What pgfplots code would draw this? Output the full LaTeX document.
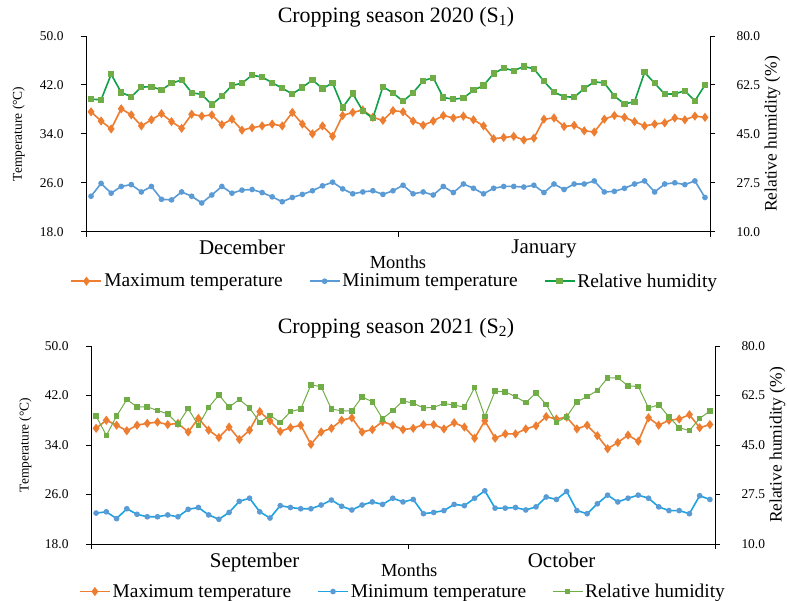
\documentclass[border=0pt]{standalone}
\usepackage{fontspec}
\setmainfont{Liberation Serif}
\usepackage{pgfplots}
\usepackage{pgfplotstable}
\pgfplotsset{compat=1.18}

\definecolor{cOr}{HTML}{ED7D31}
\definecolor{cBl}{HTML}{5B9BD5}
\definecolor{cBlL}{HTML}{1CA3E3}
\definecolor{cGrL}{HTML}{0FA048}
\definecolor{cGrM}{HTML}{70AD47}

\pgfplotstableread{
d tmax tmin rh
1 37.6 23.8 57.4
2 36.1 25.9 57.2
3 34.8 24.3 66.3
4 38.1 25.4 59.8
5 37.1 25.7 58.3
6 35.3 24.5 61.7
7 36.3 25.4 61.9
8 37.3 23.3 60.7
9 36.0 23.2 63.1
10 34.9 24.5 64.3
11 37.2 23.8 59.7
12 36.9 22.7 59.1
13 37.1 24.0 55.5
14 35.5 25.4 58.5
15 36.4 24.3 62.3
16 34.6 24.8 63.1
17 35.0 24.9 66.0
18 35.3 24.4 65.3
19 35.6 23.7 63.3
20 35.3 22.9 61.3
21 37.5 23.6 59.3
22 35.6 24.1 61.6
23 34.0 24.7 64.3
24 35.3 25.5 61.2
25 33.6 26.1 63.2
26 37.0 25.0 54.4
27 37.5 24.2 59.4
28 37.9 24.5 53.2
29 36.7 24.7 50.6
30 36.2 24.1 61.9
31 37.8 24.7 59.6
32 37.6 25.6 56.7
33 36.1 24.2 59.7
34 35.4 24.5 64.0
35 36.1 24.0 65.1
36 37.0 25.4 58.0
37 36.6 24.4 57.4
38 36.9 25.8 57.8
39 36.3 25.1 60.6
40 35.3 24.2 62.3
41 33.2 25.1 66.6
42 33.4 25.4 68.5
43 33.6 25.4 67.6
44 33.0 25.3 69.1
45 33.3 25.6 68.3
46 36.4 24.4 63.8
47 36.6 25.8 59.9
48 35.2 24.9 58.3
49 35.4 25.8 58.1
50 34.5 25.8 61.2
51 34.3 26.3 63.6
52 36.4 24.5 63.2
53 37.0 24.6 58.5
54 36.7 25.1 55.7
55 36.0 25.8 56.5
56 35.3 26.3 67.0
57 35.6 24.5 63.1
58 35.8 25.8 59.2
59 36.6 26.0 59.3
60 36.3 25.7 60.4
61 36.9 26.3 56.8
62 36.7 23.6 62.5
}\seasonA

\pgfplotstableread{
d tmax tmin rh
1 36.7 23.0 55.2
2 38.0 23.2 48.4
3 37.2 22.1 55.2
4 36.3 23.7 61.1
5 37.2 22.8 58.5
6 37.5 22.4 58.5
7 37.7 22.4 57.2
8 37.3 22.7 56.0
9 37.5 22.4 52.4
10 36.1 23.6 57.9
11 38.3 23.9 51.9
12 36.4 22.7 58.3
13 35.2 22.0 62.7
14 36.9 23.1 58.4
15 34.9 24.9 61.1
16 36.4 25.4 58.1
17 39.4 23.2 53.0
18 37.9 22.2 55.5
19 36.2 24.2 53.0
20 36.8 23.9 56.8
21 37.2 23.7 57.7
22 34.1 23.7 66.3
23 36.1 24.3 65.6
24 36.7 25.1 57.7
25 38.0 24.1 57.1
26 38.4 23.5 57.1
27 36.1 24.3 62.0
28 36.5 24.8 60.3
29 37.8 24.4 54.3
30 37.2 25.4 57.2
31 36.5 24.8 60.6
32 36.7 25.2 59.8
33 37.3 22.9 58.1
34 37.3 23.1 58.3
35 36.6 23.4 59.7
36 37.6 24.4 59.1
37 36.9 24.2 58.4
38 35.1 25.4 65.3
39 37.9 26.6 55.1
40 35.1 23.8 64.0
41 35.8 23.8 63.8
42 35.8 23.9 62.1
43 36.6 23.5 60.0
44 37.1 24.0 63.4
45 38.6 25.6 59.3
46 38.2 25.2 53.0
47 38.5 26.5 55.0
48 36.6 23.4 60.3
49 37.2 22.9 62.1
50 35.5 24.5 64.3
51 33.4 25.9 68.7
52 34.4 24.8 68.8
53 35.6 25.4 65.9
54 34.6 25.9 65.7
55 38.4 25.4 58.1
56 37.2 24.0 59.2
57 38.0 23.4 55.0
58 38.2 23.4 51.1
59 38.9 22.9 50.1
60 36.8 25.8 54.4
61 37.3 25.2 57.0
}\seasonB

\pgfplotsset{
  /pgf/number format/assume math mode=true,
  base/.style={
    scale only axis, width=624bp, anchor=south west,
    xmin=0.5,
    axis line style={line width=1bp, black},
    tick style={line width=1bp, black},
    major tick length=5bp, tick align=outside,
  },
  leftax/.style={base,
    axis x line*=bottom, axis y line*=left,
    ymin=18, ymax=50, ytick={18,26,34,42,50},
    yticklabel style={/pgf/number format/fixed, /pgf/number format/fixed zerofill,
      /pgf/number format/precision=1, font=\fontsize{13.5}{15}\selectfont,
      anchor=east, xshift=-14bp},
    xtick={0.5,31.5,62.5}, xticklabels={},
    extra x tick style={major tick length=0pt,
      xticklabel style={font=\fontsize{21}{23}\selectfont, yshift=-5bp}},
    xlabel={Months},
    xlabel style={font=\fontsize{18.5}{20}\selectfont, anchor=center},
    ylabel={Temperature (°C)},
    ylabel style={font=\fontsize{13.5}{15}\selectfont},
    legend columns=3,
    legend style={draw=none, fill=none, anchor=center,
      font=\fontsize{19.5}{21}\selectfont,
      /tikz/every even column/.append style={column sep=24bp}},
    legend cell align=left,
    legend image code/.code={\draw[mark repeat=2,mark phase=2,##1] plot coordinates {(0bp,0bp) (15bp,0bp) (30bp,0bp)};},
  },
  rightax/.style={base,
    axis x line=none, axis y line*=right,
    ymin=10, ymax=80, ytick={10,27.5,45,62.5,80},
    ylabel={Relative humidity (\%)},
    ylabel style={font=\fontsize{17.5}{19}\selectfont},
  },
  rlab/.style={yticklabel style={/pgf/number format/fixed, /pgf/number format/fixed zerofill,
      /pgf/number format/precision=1, font=\fontsize{13.5}{15}\selectfont,
      anchor=west, xshift=18bp}},
  tmaxS/.style={color=cOr, line width=1.6bp, mark=diamond*, mark size=3.3bp, mark options={solid, fill=cOr}},
  tminS/.style={color=cBl, line width=1.6bp, mark=*, mark size=2bp, mark options={solid, fill=cBl}},
  rhS/.style={color=cGrL, line width=1.6bp, mark=square*, mark size=2.3bp, mark options={solid, fill=cGrM, draw=cGrM}},
  tminS2/.style={color=cBlL, line width=1.6bp, mark=*, mark size=2bp, mark options={solid, fill=cBl, draw=cBl}},
  rhS2/.style={color=cGrM, line width=1bp, mark=square*, mark size=2.3bp, mark options={solid, fill=cGrM, draw=cGrM}},
}

\begin{document}
\begin{tikzpicture}
\path[use as bounding box] (0,0) rectangle (787bp,-601bp);

% ---------- Panel 1 ----------
\node[font=\fontsize{22}{24}\selectfont] at (396bp,-17bp) {Cropping season 2020 (S\textsubscript{1})};
\begin{axis}[leftax, at={(86bp,-231.7bp)}, height=195.7bp, xmax=62.5,
  extra x ticks={16,46}, extra x tick labels={December,January},
  xlabel style={at={(axis description cs:0.5,-0.157)}},
  ylabel style={at={(axis description cs:-0.108,0.5)}, anchor=center},
  legend style={at={(axis description cs:0.495,-0.253)}}]
\addplot[tmaxS] table[x=d, y=tmax] {\seasonA};
\addlegendentry{Maximum temperature}
\addplot[tminS] table[x=d, y=tmin] {\seasonA};
\addlegendentry{Minimum temperature}
\addlegendimage{rhS}
\addlegendentry{Relative humidity}
\end{axis}
\begin{axis}[rightax, at={(86bp,-231.7bp)}, height=195.7bp, xmax=62.5, rlab,
  ylabel style={at={(axis description cs:1.1,0.5)}, anchor=center}]
\addplot[rhS] table[x=d, y=rh] {\seasonA};
\end{axis}

% ---------- Panel 2 ----------
\node[font=\fontsize{22}{24}\selectfont] at (396bp,-328bp) {Cropping season 2021 (S\textsubscript{2})};
\begin{axis}[leftax, at={(91bp,-544bp)}, height=198bp, xmax=61.5,
  extra x ticks={16.5,46.5}, extra x tick labels={September,October},
  xtick={0.5,31.5,61.5},
  xlabel style={at={(axis description cs:0.51,-0.13)}},
  ylabel style={at={(axis description cs:-0.105,0.5)}, anchor=center},
  legend style={at={(axis description cs:0.5,-0.24)}}]
\addplot[tmaxS] table[x=d, y=tmax] {\seasonB};
\addlegendentry{Maximum temperature}
\addplot[tminS2] table[x=d, y=tmin] {\seasonB};
\addlegendentry{Minimum temperature}
\addlegendimage{rhS2}
\addlegendentry{Relative humidity}
\end{axis}
\begin{axis}[rightax, at={(91bp,-544bp)}, height=198bp, xmax=61.5, rlab,
  ylabel style={at={(axis description cs:1.1,0.5)}, anchor=center}]
\addplot[rhS2] table[x=d, y=rh] {\seasonB};
\end{axis}
\end{tikzpicture}
\end{document}
